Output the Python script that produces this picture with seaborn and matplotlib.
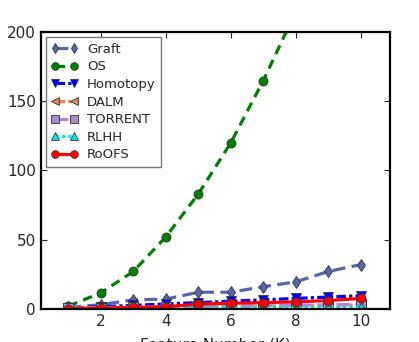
import numpy as np
import pandas as pd
import matplotlib
matplotlib.use("Agg")
import matplotlib.pyplot as plt
import seaborn as sns

k = [1, 2, 3, 4, 5, 6, 7, 8, 9, 10]
graft = [1.0, 3.0, 6.5, 7.0, 12.0, 12.0, 16.0, 19.5, 27.0, 32.0]
os_time = [2.0, 11.5, 27.0, 52.0, 83.0, 120.0, 165.0, 215.0, 275.0, 340.0]
homotopy = [0.6, 1.5, 2.5, 3.5, 4.5, 5.5, 6.5, 7.5, 8.5, 9.5]
dalm = [0.4, 0.8, 1.0, 1.3, 1.6, 1.8, 2.0, 2.3, 2.5, 2.8]
torrent = [0.5, 0.9, 1.2, 1.5, 1.8, 2.0, 2.3, 2.6, 2.9, 3.2]
rlhh = [0.2, 0.3, 0.4, 0.5, 0.6, 0.7, 0.8, 0.9, 1.0, 1.1]
roofs = [0.2, 0.5, 1.0, 1.5, 3.5, 4.0, 4.5, 5.0, 6.0, 7.5]

styles = [
    ("Graft", graft, "#5566aa", (0, (4, 2)), "d"),
    ("OS", os_time, "#008000", (0, (3, 2)), "o"),
    ("Homotopy", homotopy, "#0000ff", (0, (3, 1, 1, 1)), "v"),
    ("DALM", dalm, "#f07f4f", (0, (3, 1, 1, 1)), "<"),
    ("TORRENT", torrent, "#b088d0", (0, (4, 2)), "s"),
    ("RLHH", rlhh, "#00e5ee", (0, (1, 1)), "^"),
    ("RoOFS", roofs, "#ff0000", "-", "o"),
]

sns.set_style("ticks", {"xtick.direction": "in", "ytick.direction": "in"})
plt.rcParams["font.family"] = ["DejaVu Sans"]

fig = plt.figure(figsize=(4.19, 3.42), dpi=100)
ax = fig.add_axes([0.097, 0.097, 0.834, 0.809])

for name, vals, color, ls, mk in styles:
    df = pd.DataFrame({"K": k, "t": vals})
    sns.lineplot(data=df, x="K", y="t", ax=ax, color=color, linestyle=ls,
                 marker=mk, markersize=6.5, linewidth=2.3, label=name,
                 markeredgecolor="#333333", markeredgewidth=0.6)

ax.set_xlim(0.15, 10.9)
ax.set_ylim(0, 200)
ax.set_xticks([2, 4, 6, 8, 10])
ax.set_yticks([0, 50, 100, 150, 200])
ax.tick_params(labelsize=11, top=True, right=True, length=4, width=0.8)
for s in ax.spines.values():
    s.set_linewidth(1.6)
    s.set_color("black")
ax.set_xlabel("Feature Number (K)", fontsize=11, labelpad=6)
ax.set_ylabel("Running Time(s)", fontsize=11, labelpad=4)

leg = ax.legend(loc="upper left", fontsize=9.5, numpoints=2, fancybox=False,
                framealpha=1, edgecolor="#777777", handlelength=2.0,
                markerscale=0.85, borderaxespad=0.4, labelspacing=0.35,
                handletextpad=0.7)

fig.savefig("out.png", dpi=100)
